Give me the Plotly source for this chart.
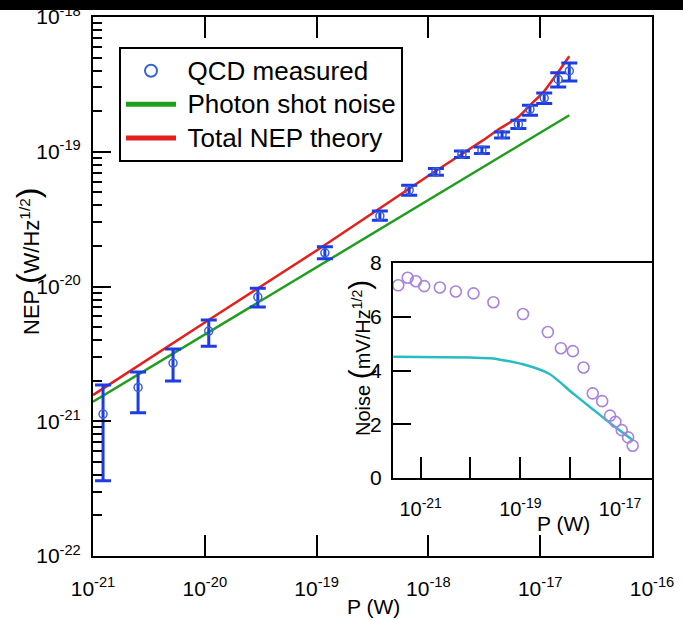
import plotly.graph_objects as go

# ---------------- main panel data ----------------
qcd_p = [1.23e-21, 2.53e-21, 5.2e-21, 1.085e-20, 2.98e-20, 1.186e-19, 3.68e-19, 6.73e-19,
         1.167e-18, 1.995e-18, 3.01e-18, 4.56e-18, 6.38e-18, 8.1e-18, 1.086e-17, 1.449e-17, 1.82e-17]
qcd_nep = [1.13e-21, 1.783e-21, 2.70e-21, 4.67e-21, 8.34e-21, 1.778e-20, 3.34e-20, 5.19e-20,
           7.08e-20, 9.59e-20, 1.026e-19, 1.342e-19, 1.60e-19, 2.065e-19, 2.506e-19, 3.44e-19, 3.98e-19]
qcd_hi = [1.855e-21, 2.32e-21, 3.44e-21, 5.64e-21, 9.72e-21, 1.97e-20, 3.64e-20, 5.65e-20,
          7.51e-20, 1.014e-19, 1.086e-19, 1.40e-19, 1.714e-19, 2.21e-19, 2.73e-19, 3.85e-19, 4.56e-19]
qcd_lo = [3.62e-22, 1.156e-21, 1.99e-21, 3.61e-21, 7.03e-21, 1.61e-20, 3.10e-20, 4.76e-20,
          6.70e-20, 9.06e-20, 9.7e-20, 1.267e-19, 1.486e-19, 1.866e-19, 2.28e-19, 3.03e-19, 3.35e-19]

shot_p = [1e-21, 1e-20, 1e-19, 1e-18, 1e-17, 1.82e-17]
shot_nep = [1.396e-21, 4.4e-21, 1.39e-20, 4.4e-20, 1.39e-19, 1.866e-19]

total_p = [1e-21, 1e-20, 1e-19, 1e-18, 3e-18, 4.36e-18, 6.37e-18, 8.1e-18, 1.087e-17, 1.45e-17, 1.82e-17]
total_nep = [1.563e-21, 5.41e-21, 1.85e-20, 6.64e-20, 1.20e-19, 1.486e-19, 1.81e-19, 2.21e-19,
             2.82e-19, 3.91e-19, 5.12e-19]

main_x_ticks = [1e-21, 1e-20, 1e-19, 1e-18, 1e-17, 1e-16]
main_x_text = ["10<sup>-21</sup>", "10<sup>-20</sup>", "10<sup>-19</sup>", "10<sup>-18</sup>",
               "10<sup>-17</sup>", "10<sup>-16</sup>"]
main_y_ticks = [1e-22, 1e-21, 1e-20, 1e-19, 1e-18]
main_y_text = ["10<sup>-22</sup>", "10<sup>-21</sup>", "10<sup>-20</sup>", "10<sup>-19</sup>",
               "10<sup>-18</sup>"]

# ---------------- inset data ----------------
inset_p = [3.56e-22, 5.5e-22, 8.05e-22, 1.18e-21, 2.43e-21, 5.08e-21, 1.15e-20, 2.88e-20,
           1.13e-19, 3.56e-19, 6.5e-19, 1.13e-18, 1.85e-18, 2.83e-18, 4.37e-18, 6.3e-18,
           8.05e-18, 1.08e-17, 1.45e-17, 1.79e-17]
inset_noise = [7.17, 7.45, 7.32, 7.14, 7.09, 6.94, 6.87, 6.54, 6.10, 5.43, 4.83, 4.72, 4.11,
               3.15, 2.86, 2.32, 2.09, 1.78, 1.51, 1.20]
cyan_p = [2.83e-22, 1e-20, 2.83e-20, 1.13e-19, 3.86e-19, 1.13e-18, 2.83e-18, 5.25e-18, 1.79e-17]
cyan_noise = [4.51, 4.48, 4.45, 4.23, 3.87, 3.15, 2.56, 2.16, 1.41]

inset_x_ticks = [1e-21, 1e-20, 1e-19, 1e-18, 1e-17]
inset_x_text = ["10<sup>-21</sup>", "", "10<sup>-19</sup>", "", "10<sup>-17</sup>"]
inset_y_ticks = [0, 2, 4, 6, 8]

FONT = "Arial, 'Liberation Sans', sans-serif"
BLUE_BAR = "#1c3ce6"
BLUE_MK = "#3a62d8"
RED = "#e3201c"
GREEN = "#1f9e1f"
PURPLE = "#a882dc"
CYAN = "#26bcc2"

W, H = 683, 620
ML, MR, MT, MB = 93, 31, 17, 64
PW, PH = W - ML - MR, H - MT - MB


def px(xp):
    return (xp - ML) / PW


def py(yp):
    return (H - MB - yp) / PH


def leg(name):
    return "\u00a0<span style='font-size:26px'>" + name + "</span>"


fig = go.Figure()

fig.add_trace(go.Scatter(
    x=shot_p, y=shot_nep, mode="lines", name=leg("Photon shot noise"),
    line=dict(color=GREEN, width=2.5), legendrank=2, legendgroup="b",
    xaxis="x", yaxis="y"))
fig.add_trace(go.Scatter(
    x=total_p, y=total_nep, mode="lines", name=leg("Total NEP theory"),
    line=dict(color=RED, width=2.5, shape="spline", smoothing=0.6),
    legendrank=3, legendgroup="c", xaxis="x", yaxis="y"))
fig.add_trace(go.Scatter(
    x=qcd_p, y=qcd_nep, mode="markers", name=leg("QCD measured"),
    marker=dict(symbol="circle-open", size=8, color=BLUE_MK, line=dict(width=1.5, color=BLUE_MK)),
    error_y=dict(type="data", symmetric=False,
                 array=[h - v for h, v in zip(qcd_hi, qcd_nep)],
                 arrayminus=[v - l for v, l in zip(qcd_nep, qcd_lo)],
                 color=BLUE_BAR, thickness=3, width=8),
    legendrank=1, legendgroup="a", xaxis="x", yaxis="y"))

# inset
fig.add_trace(go.Scatter(
    x=cyan_p, y=cyan_noise, mode="lines", showlegend=False,
    line=dict(color=CYAN, width=2.5, shape="spline", smoothing=0.6),
    xaxis="x2", yaxis="y2"))
fig.add_trace(go.Scatter(
    x=inset_p, y=inset_noise, mode="markers", showlegend=False,
    marker=dict(symbol="circle-open", size=11, color=PURPLE, line=dict(width=1.6, color=PURPLE)),
    xaxis="x2", yaxis="y2"))

axis_common = dict(showgrid=False, zeroline=False, showline=True, linecolor="black",
                   linewidth=2, ticks="inside", tickcolor="black", tickwidth=2,
                   automargin=False,
                   tickfont=dict(family=FONT, size=21, color="black"))

minor_vals = [m * 10.0 ** e for e in range(-22, -18) for m in range(2, 10)]

fig.update_layout(
    width=W, height=H, autosize=False,
    margin=dict(l=ML, r=MR, t=MT, b=MB, pad=0, autoexpand=False),
    paper_bgcolor="white", plot_bgcolor="white",
    font=dict(family=FONT, color="black"),
    xaxis=dict(axis_common, type="log", range=[-21, -16], tickmode="array",
               tickvals=main_x_ticks, ticktext=main_x_text, ticklen=21,
               mirror="ticks", ticklabelstandoff=13, domain=[0, 1]),
    yaxis=dict(axis_common, type="log", range=[-22, -18], tickmode="array",
               tickvals=main_y_ticks, ticktext=main_y_text, ticklen=18,
               mirror=True, ticklabelstandoff=6, domain=[0, 1],
               minor=dict(ticks="inside", ticklen=9, tickwidth=2, tickcolor="black",
                          tickmode="array", tickvals=minor_vals)),
    xaxis2=dict(axis_common, type="log", range=[-21.554, -16.36], tickmode="array",
                tickvals=inset_x_ticks, ticktext=inset_x_text, ticklen=21,
                mirror=True, ticklabelstandoff=12, anchor="y2",
                domain=[px(393), 1.0], tickfont=dict(family=FONT, size=20, color="black")),
    yaxis2=dict(axis_common, type="linear", range=[0, 8], tickmode="array",
                tickvals=inset_y_ticks, ticklen=18, mirror=True, ticklabelstandoff=5,
                anchor="x2", domain=[py(478), py(263)],
                tickfont=dict(family=FONT, size=21, color="black")),
    showlegend=True,
    legend=dict(x=px(119), y=py(47), xanchor="left", yanchor="top",
                bgcolor="white", bordercolor="black", borderwidth=2,
                font=dict(family=FONT, size=23.5, color="black"),
                tracegroupgap=0, itemsizing="constant", itemwidth=50,
                traceorder="grouped"),
)

# white background behind the inset
fig.add_shape(type="rect", xref="paper", yref="paper", x0=px(393), x1=1.0,
              y0=py(478), y1=py(263), fillcolor="white", line=dict(width=0), layer="below")

# black strip at the very top (cropped neighbour figure)
fig.add_shape(type="rect", xref="paper", yref="paper", x0=-0.3, x1=1.2,
              y0=py(10), y1=py(-5), fillcolor="black", line=dict(width=0), layer="above")

big = "<span style='font-size:32px'>"
fig.add_annotation(xref="paper", yref="paper", x=px(28), y=py(262), textangle=-90,
                   showarrow=False, xanchor="center", yanchor="middle",
                   text="NEP " + big + "(</span>W/Hz<sup>1/2</sup>" + big + ")</span>",
                   font=dict(family=FONT, size=22, color="black"))
fig.add_annotation(xref="paper", yref="paper", x=px(373), y=py(606), showarrow=False,
                   xanchor="center", yanchor="middle", text="P (W)",
                   font=dict(family=FONT, size=21, color="black"))
fig.add_annotation(xref="paper", yref="paper", x=px(563), y=py(523), showarrow=False,
                   xanchor="center", yanchor="middle", text="P (W)",
                   font=dict(family=FONT, size=21, color="black"))
big2 = "<span style='font-size:30px'>"
fig.add_annotation(xref="paper", yref="paper", x=px(359), y=py(358), textangle=-90,
                   showarrow=False, xanchor="center", yanchor="middle",
                   text="Noise " + big2 + "(</span>mV/Hz<sup>1/2</sup>" + big2 + ")</span>",
                   font=dict(family=FONT, size=20, color="black"))

fig.write_html(
    "out.html",
    config={"displayModeBar": False},
    post_script="document.body.style.margin='0px';document.body.style.padding='0px';"
                "var gd=document.getElementById('{plot_id}');gd.style.position='absolute';"
                "gd.style.left='0px';gd.style.top='0px';",
)
